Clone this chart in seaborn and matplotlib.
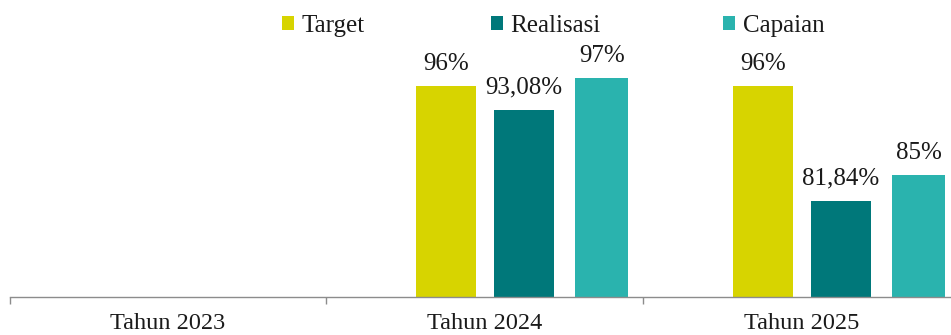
import matplotlib
matplotlib.use("Agg")
import matplotlib.pyplot as plt
from matplotlib.patches import Patch
import numpy as np
import pandas as pd
import seaborn as sns

# Data
years = ["Tahun 2023", "Tahun 2024", "Tahun 2025"]
series = ["Target", "Realisasi", "Capaian"]
target = [np.nan, 96.0, 96.0]
realisasi = [np.nan, 93.08, 81.84]
capaian = [np.nan, 97.0, 85.0]

colors = {"Target": "#D7D400", "Realisasi": "#00787A", "Capaian": "#2AB3AE"}
offsets = {"Target": -0.123, "Realisasi": 0.123, "Capaian": 0.369}
widths = {"Target": 0.189, "Realisasi": 0.189, "Capaian": 0.167}

sns.set_theme(style="white")
plt.rcParams["font.family"] = ["Liberation Serif", "DejaVu Serif"]

W, H, DPI = 951, 335, 100
fig = plt.figure(figsize=(W / DPI, H / DPI), dpi=DPI)
left_px, base_px = 9.5, 297
ax = fig.add_axes([left_px / W, (H - base_px) / H, (W - left_px) / W, base_px / H])

values = {"Target": target, "Realisasi": realisasi, "Capaian": capaian}
idx = np.arange(len(years))
for name in series:
    df = pd.DataFrame({"x": idx + offsets[name], "y": values[name]}).dropna()
    sns.barplot(data=df, x="x", y="y", native_scale=True, width=widths[name],
                color=colors[name], saturation=1, ax=ax, edgecolor="none", linewidth=0)
    for xv, yv in zip(df["x"], df["y"]):
        txt = f"{yv:.0f}%" if float(yv).is_integer() else f"{yv:.2f}%".replace(".", ",")
        ax.annotate(txt, (xv, yv), xytext=(0, 8), textcoords="offset points",
                    ha="center", va="bottom", fontsize=18, color="#1a1a1a")

ax.set_ylim(70, 70 + base_px / 8.12)
ax.set_xlabel("")
ax.set_ylabel("")
ax.set_yticks([])

# category boundaries as tick marks, labels centred between them
ax.set_xticks(np.arange(len(years) + 1) - 0.5)
ax.set_xticklabels([])
ax.set_xticks(idx, minor=True)
ax.set_xticklabels(years, minor=True, fontsize=17.5, color="#1a1a1a")
ax.tick_params(axis="x", which="major", length=5, width=1, color="#8C8C8C",
               direction="out", bottom=True)
ax.tick_params(axis="x", which="minor", length=0, pad=11.5)

for s in ["top", "right", "left"]:
    ax.spines[s].set_visible(False)
ax.spines["bottom"].set_color("#8C8C8C")
ax.spines["bottom"].set_linewidth(1.0)

# legend entries
legend_x = {"Target": 282, "Realisasi": 491, "Capaian": 723}
for name in series:
    fig.legend([Patch(facecolor=colors[name], edgecolor="none")], [name],
               loc="center left", bbox_to_anchor=(legend_x[name] / W, 1 - 26 / H),
               frameon=False, fontsize=18, handlelength=0.48, handleheight=0.48,
               handletextpad=0.3, borderpad=0, borderaxespad=0, labelcolor="#1a1a1a")

# seaborn resets the limits on each call, so fix them last
ax.set_autoscalex_on(False)
ax.set_xlim(-0.5, -0.5 + (W - left_px) / 316.9)

fig.savefig("out.png", dpi=DPI)
